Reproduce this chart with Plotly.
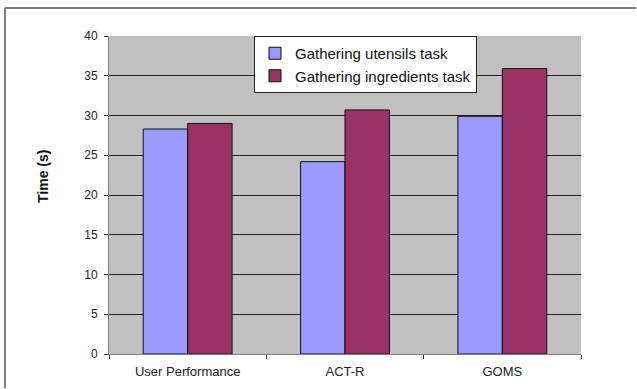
import plotly.graph_objects as go

# Task-completion times per modelling approach
categories = ["User Performance", "ACT-R", "GOMS"]
utensils_times = [28.3, 24.2, 29.9]
ingredients_times = [29.0, 30.7, 35.9]
series_names = ["Gathering utensils task", "Gathering ingredients task"]
y_ticks = [0, 5, 10, 15, 20, 25, 30, 35, 40]
y_title = "Time (s)"

FONT = "Liberation Sans, Arial, sans-serif"
W, H = 637, 389
L, R, T, B = 109, 56, 36, 35
PW, PH = W - L - R, H - T - B
bar_line = dict(color="#111111", width=1)


def px_x(x):
    return (x - L) / PW


def px_y(y):
    return (H - B - y) / PH


fig = go.Figure()
fig.add_trace(go.Bar(
    name=series_names[0], x=categories, y=utensils_times,
    marker=dict(color="#9999FF", line=bar_line),
))
fig.add_trace(go.Bar(
    name=series_names[1], x=categories, y=ingredients_times,
    marker=dict(color="#993366", line=bar_line),
))

frame = dict(color="#808080", width=2)

fig.update_layout(
    width=W, height=H,
    margin=dict(l=L, r=R, t=T, b=B, autoexpand=False),
    paper_bgcolor="white",
    plot_bgcolor="#C0C0C0",
    barmode="group",
    bargap=0.435,
    bargroupgap=0,
    font=dict(family=FONT, size=12, color="#222222"),
    showlegend=True,
    legend=dict(
        x=px_x(254), xanchor="left",
        y=1.0, yanchor="top",
        bgcolor="white",
        bordercolor="#222222", borderwidth=1,
        font=dict(family=FONT, size=15, color="#111111"),
        tracegroupgap=0,
    ),
    xaxis=dict(
        type="category",
        tickson="boundaries",
        ticks="outside", ticklen=4, tickcolor="#333333",
        showline=True, linecolor="#808080", linewidth=1,
        showgrid=False,
        tickangle=0,
        ticklabelstandoff=5,
        tickfont=dict(size=13, color="#222222"),
    ),
    yaxis=dict(
        range=[0, 40],
        tickvals=y_ticks,
        ticks="outside", ticklen=4, tickcolor="#333333",
        showline=True, linecolor="#808080", linewidth=1,
        showgrid=True, gridcolor="#222222", gridwidth=1,
        zeroline=False,
        ticklabelstandoff=4,
        tickfont=dict(size=12, color="#222222"),
    ),
    annotations=[dict(
        text=f"<b>{y_title}</b>", textangle=-90,
        xref="paper", yref="paper",
        x=px_x(43), y=px_y(177),
        xanchor="center", yanchor="middle", showarrow=False,
        font=dict(size=14, color="#111111"),
    )],
    shapes=[
        # chart frame: top and left edges only
        dict(type="line", xref="paper", yref="paper",
             x0=px_x(5), x1=px_x(W - 1), y0=px_y(8), y1=px_y(8), line=frame),
        dict(type="line", xref="paper", yref="paper",
             x0=px_x(5), x1=px_x(5), y0=px_y(8), y1=px_y(H - 1), line=frame),
    ],
)

fig.write_html(
    "out.html",
    post_script="document.body.style.margin='0';"
                "document.body.style.overflow='hidden';",
)
